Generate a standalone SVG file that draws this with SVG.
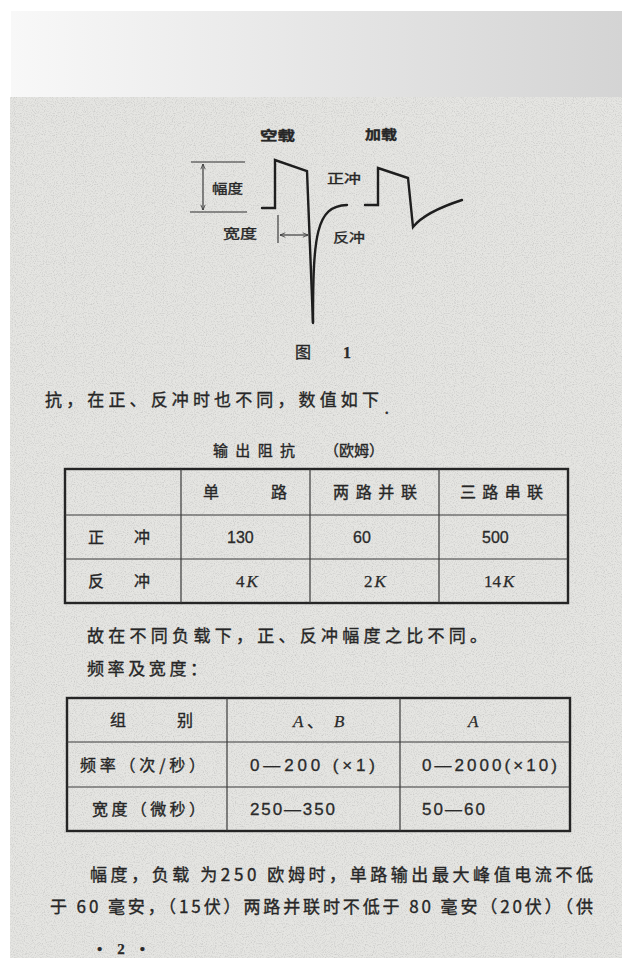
<svg xmlns="http://www.w3.org/2000/svg" width="622" height="958" viewBox="0 0 622 958">
<defs>
  <linearGradient id="band" x1="0" y1="0" x2="1" y2="0">
    <stop offset="0" stop-color="#f8f8f8"/>
    <stop offset="1" stop-color="#d4d4d4"/>
  </linearGradient>
  <filter id="paper" x="0" y="0" width="100%" height="100%">
    <feTurbulence type="fractalNoise" baseFrequency="0.9" numOctaves="2" seed="3" result="n"/>
    <feColorMatrix in="n" type="matrix" values="0 0 0 0 0.5  0 0 0 0 0.5  0 0 0 0 0.49  0 0 0 -1.6 0.88" result="spots"/>
    <feComposite in="spots" in2="SourceGraphic" operator="in" result="s2"/>
    <feMerge><feMergeNode in="SourceGraphic"/><feMergeNode in="s2"/></feMerge>
  </filter>
  <marker id="ah" viewBox="0 0 8 8" refX="7.5" refY="4" markerWidth="6" markerHeight="6" orient="auto-start-reverse" markerUnits="userSpaceOnUse">
    <path d="M0.5,1 L7.5,4 L0.5,7" fill="none" stroke="#333" stroke-width="1"/>
  </marker>
  <style>
    .cjk { font-family: "Noto Sans CJK SC", "Noto Sans", sans-serif; fill: #262626; stroke: #262626; stroke-width: 0.35; }
    .num { font-family: "Liberation Sans", Arial, sans-serif; fill: #2a2a2a; stroke: #2a2a2a; stroke-width: 0.3; }
    .ser { font-family: "Liberation Serif", "Times New Roman", serif; fill: #2a2a2a; stroke: #2a2a2a; stroke-width: 0.25; }
    .it { font-style: italic; }
    .body { font-size: 17px; }
    .cell { font-size: 16px; }
    .lab { font-size: 13px; }
    .wave { fill: none; stroke: #1e1e1e; stroke-width: 2.4; stroke-linejoin: miter; stroke-linecap: round; }
    .thin { fill: none; stroke: #2e2e2e; stroke-width: 1.1; }
    .outer { fill: none; stroke: #252525; stroke-width: 2.4; }
    .inner { fill: none; stroke: #3a3a3a; stroke-width: 1.2; }
  </style>
</defs>

<rect x="0" y="0" width="622" height="958" fill="#ffffff"/>
<rect x="11" y="11" width="611" height="86" fill="url(#band)"/>
<rect x="10" y="97" width="612" height="861" fill="#e5e5e2" filter="url(#paper)"/>

<g id="figure1">
  <text class="cjk lab" x="260" y="140" textLength="35" lengthAdjust="spacingAndGlyphs" font-weight="bold">空载</text>
  <text class="cjk lab" x="365" y="139" textLength="32" lengthAdjust="spacingAndGlyphs" font-weight="bold">加载</text>
  <g id="connectors">
    <line class="thin" x1="191" y1="162" x2="245" y2="162"/>
    <line class="thin" x1="190" y1="212" x2="247" y2="212"/>
    <line class="thin" x1="203" y1="164" x2="203" y2="210" marker-start="url(#ah)" marker-end="url(#ah)"/>
    <line class="thin" x1="278" y1="215" x2="278" y2="243"/>
    <line class="thin" x1="280" y1="235" x2="308" y2="235" marker-start="url(#ah)" marker-end="url(#ah)"/>
  </g>
  <path id="wave-noload" class="wave" d="M262,208 H275 V160 L307,171 L313,323"/>
  <path id="wave-noload-return" class="wave" d="M313,322 C313,235 316,206 347,205"/>
  <path id="wave-load" class="wave" d="M365,205 H378 V168 L408,178 L413,227 Q425,212 462,200"/>
  <text class="cjk lab" x="212" y="193" textLength="31" lengthAdjust="spacingAndGlyphs">幅度</text>
  <text class="cjk lab" x="223" y="238" textLength="34" lengthAdjust="spacingAndGlyphs">宽度</text>
  <text class="cjk lab" x="327" y="183" textLength="34" lengthAdjust="spacingAndGlyphs">正冲</text>
  <text class="cjk lab" x="333" y="242" textLength="32" lengthAdjust="spacingAndGlyphs">反冲</text>
  <text class="cjk" x="295" y="358" font-size="16">图</text>
  <text class="ser" x="343" y="358" font-size="16" font-weight="bold">1</text>
</g>

<g id="text-top">
  <text class="cjk body" x="45" y="406" textLength="334" lengthAdjust="spacing">抗，在正、反冲时也不同，数值如下</text>
  <text class="ser" x="385" y="414" font-size="14" font-weight="bold">.</text>
  <text class="cjk" x="213" y="456" font-size="15" textLength="82" lengthAdjust="spacing">输出阻抗</text>
  <text class="cjk" x="324" y="456" font-size="15">（欧姆）</text>
</g>

<g id="table1">
  <rect class="outer" x="65" y="469" width="503" height="134"/>
  <line class="inner" x1="181" y1="469" x2="181" y2="603"/>
  <line class="inner" x1="310" y1="469" x2="310" y2="603"/>
  <line class="inner" x1="439" y1="469" x2="439" y2="603"/>
  <line class="inner" x1="65" y1="515" x2="568" y2="515"/>
  <line class="inner" x1="65" y1="559" x2="568" y2="559"/>
  <text class="cjk cell" x="203" y="498" textLength="84" lengthAdjust="spacing">单路</text>
  <text class="cjk cell" x="333" y="498" textLength="84" lengthAdjust="spacing">两路并联</text>
  <text class="cjk cell" x="460" y="498" textLength="83" lengthAdjust="spacing">三路串联</text>
  <text class="cjk cell" x="88" y="543" textLength="62" lengthAdjust="spacing">正冲</text>
  <text class="cjk cell" x="88" y="587" textLength="62" lengthAdjust="spacing">反冲</text>
  <text class="num" x="227" y="543" font-size="16">130</text>
  <text class="num" x="353" y="543" font-size="16">60</text>
  <text class="num" x="482" y="543" font-size="16">500</text>
  <text class="ser" x="236" y="587" font-size="17">4<tspan class="it" dx="2">K</tspan></text>
  <text class="ser" x="364" y="587" font-size="17">2<tspan class="it" dx="2">K</tspan></text>
  <text class="ser" x="484" y="587" font-size="17">14<tspan class="it" dx="2">K</tspan></text>
</g>

<g id="text-mid">
  <text class="cjk body" x="87" y="642" textLength="400" lengthAdjust="spacing">故在不同负载下，正、反冲幅度之比不同。</text>
  <text class="cjk body" x="87" y="675" textLength="120" lengthAdjust="spacing">频率及宽度：</text>
</g>

<g id="table2">
  <rect class="outer" x="67" y="698" width="503" height="133"/>
  <line class="inner" x1="227" y1="698" x2="227" y2="831"/>
  <line class="inner" x1="400" y1="698" x2="400" y2="831"/>
  <line class="inner" x1="67" y1="742" x2="570" y2="742"/>
  <line class="inner" x1="67" y1="787" x2="570" y2="787"/>
  <text class="cjk cell" x="110" y="726" textLength="83" lengthAdjust="spacing">组别</text>
  <text class="ser it" x="293" y="727" font-size="17">A</text>
  <text class="cjk" x="307" y="727" font-size="16">、</text>
  <text class="ser it" x="334" y="727" font-size="17">B</text>
  <text class="ser it" x="468" y="727" font-size="17">A</text>
  <text class="cjk cell" x="80" y="771" textLength="125" lengthAdjust="spacing">频率（次/秒）</text>
  <text class="num" x="250" y="771" font-size="17" textLength="125" lengthAdjust="spacing">0—200 (×1)</text>
  <text class="num" x="422" y="771" font-size="17" textLength="135" lengthAdjust="spacing">0—2000(×10)</text>
  <text class="cjk cell" x="92" y="815" textLength="113" lengthAdjust="spacing">宽度（微秒）</text>
  <text class="num" x="250" y="815" font-size="17" textLength="85" lengthAdjust="spacing">250—350</text>
  <text class="num" x="422" y="815" font-size="17" textLength="63" lengthAdjust="spacing">50—60</text>
</g>

<g id="text-bottom">
  <text class="cjk body" x="90" y="881" textLength="503" lengthAdjust="spacing">幅度，负载 为250 欧姆时，单路输出最大峰值电流不低</text>
  <text class="cjk body" x="50" y="913" textLength="543" lengthAdjust="spacing">于 60 毫安，（15伏）两路并联时不低于 80 毫安（20伏）（供</text>
  <text class="ser" x="97" y="954" font-size="15" font-weight="bold" textLength="48" lengthAdjust="spacing">• 2 •</text>
</g>
</svg>
